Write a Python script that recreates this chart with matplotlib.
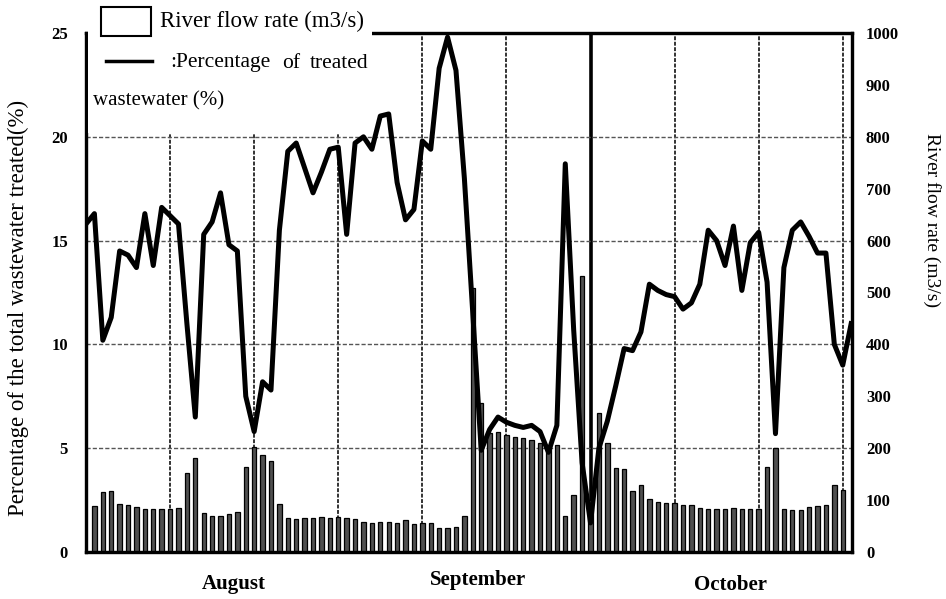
import numpy as np
import matplotlib
matplotlib.use('Agg')
import matplotlib.pyplot as plt
from matplotlib.patches import Rectangle
from matplotlib.lines import Line2D

plt.rcParams['font.family'] = ['Liberation Serif', 'DejaVu Serif']

nan = float('nan')

# Daily values, 1 Aug - 31 Oct
pct_treated = [15.8, 16.3, 10.2, 11.3, 14.5, 14.3, 13.7, 16.3, 13.8, 16.6,
               16.2, 15.8, 11.0, 6.5, 15.3, 15.9, 17.3, 14.8, 14.5, 7.5,
               5.8, 8.2, 7.8, 15.5, 19.3, 19.7, 18.5, 17.3, 18.3, 19.4,
               19.5, 15.3, 19.7, 20.0, 19.4, 21.0, 21.1, 17.8, 16.0, 16.5,
               19.8, 19.4, 23.3, 24.8, 23.2, 18.0, 11.5, 4.9, 5.9, 6.5,
               6.25, 6.1, 6.0, 6.1, 5.8, 4.8, 6.1, 18.7, 10.7, 4.3,
               1.4, 5.0, 6.3, 8.0, 9.8, 9.7, 10.6, 12.9, 12.6, 12.4,
               12.3, 11.7, 12.0, 12.9, 15.5, 15.0, 13.8, 15.7, 12.6, 14.9,
               15.4, 13.0, 5.7, 13.7, 15.5, 15.9, 15.2, 14.4, 14.4, 10.0,
               9.0, 11.0]

# first and last day are hidden behind the frame in the original
river_flow = [nan, 88, 115, 117, 93, 90, 87, 83, 82, 82,
              83, 85, 152, 181, 75, 70, 70, 74, 77, 163,
              202, 186, 176, 93, 66, 64, 65, 65, 67, 65,
              67, 65, 64, 58, 56, 57, 58, 56, 61, 54,
              56, 56, 47, 47, 49, 69, 508, 288, 230, 232,
              226, 222, 220, 216, 210, 202, 207, 70, 110, 532,
              100, 268, 210, 162, 160, 117, 129, 103, 96, 94,
              95, 91, 90, 85, 83, 82, 82, 85, 83, 83,
              83, 163, 200, 82, 80, 80, 87, 88, 90, 129,
              119, nan]

months = ['August', 'September', 'October']
month_x = [17.6, 46.6, 76.6]
month_y = [-0.062, -0.053, -0.063]

day = np.arange(len(pct_treated))

fig = plt.figure(figsize=(9.46, 5.99), dpi=100)
ax = fig.add_axes([86/946, 1 - 552/599, 766/946, 519/599])
ax2 = ax.twinx()
ax.set_zorder(ax2.get_zorder() + 1)
ax.patch.set_visible(False)

# grid (drawn on the back axis)
for gx in range(10, 91, 10):
    if gx == 60:
        ax2.axvline(gx, color='black', lw=2.6, zorder=0)
    else:
        ax2.axvline(gx, color='#333333', lw=1.4, ls=(0, (2, 0.8)), zorder=0)
for gy in range(200, 1000, 200):
    ax2.axhline(gy, color='#555555', lw=1.0, ls=(0, (3, 1.5)), zorder=0)

# river flow bars (right axis)
ax2.bar(day, river_flow, width=0.52, color='#505050', edgecolor='black',
        linewidth=0.9, zorder=2)

# percentage line (left axis)
ax.plot(day, pct_treated, color='black', lw=3.6, solid_joinstyle='round', zorder=3)

ax.set_xlim(0, 91.1)
ax.set_ylim(0, 25)
ax2.set_ylim(0, 1000)
ax.set_yticks(range(0, 26, 5))
ax2.set_yticks(range(0, 1001, 100))
ax.set_xticks([])

ax.tick_params(axis='y', length=0, pad=13)
ax2.tick_params(axis='y', length=0, pad=10)
for lab in ax.get_yticklabels() + ax2.get_yticklabels():
    lab.set_fontweight('bold')
    lab.set_fontsize(12)

for a in (ax, ax2):
    for s in a.spines.values():
        s.set_linewidth(2.3)

for name, mx, my in zip(months, month_x, month_y):
    ax.text(mx, my, name, transform=ax.get_xaxis_transform(),
            ha='center', va='center', fontsize=15, fontweight='bold')

ax.set_ylabel('Percentage of the total wastewater treated(%)', fontsize=16.5,
              va='center')
ax.yaxis.set_label_coords(-0.088, 0.47)
ax2.set_ylabel('River flow rate (m3/s)', fontsize=14, rotation=270, va='center')
ax2.yaxis.set_label_coords(1.105, 0.64)

# legend block sits on a white patch over the top-left corner
fig.add_artist(Rectangle((88/946, 1 - 133/599), (372 - 88)/946, 133/599,
                         transform=fig.transFigure, facecolor='white',
                         edgecolor='none', zorder=5))
fig.add_artist(Rectangle((101/946, 1 - 36/599), 50/946, 29/599,
                         transform=fig.transFigure, facecolor='white',
                         edgecolor='black', lw=1.5, zorder=6))
fig.add_artist(Line2D([106/946, 152/946], [1 - 61/599, 1 - 61/599],
                      transform=fig.transFigure, color='black', lw=2.5, zorder=6))
fig.text(160/946, 1 - 21/599, 'River flow rate (m3/s)', fontsize=16.5,
         va='center', ha='left', zorder=7)
for word, wx in [(':Percentage', 170), ('of', 282), ('treated', 310)]:
    fig.text(wx/946, 1 - 63/599, word, fontsize=15.5,
             va='center', ha='left', zorder=7)
fig.text(93/946, 1 - 101/599, 'wastewater (%)', fontsize=15,
         va='center', ha='left', zorder=7)

fig.savefig('out.png', dpi=100)
